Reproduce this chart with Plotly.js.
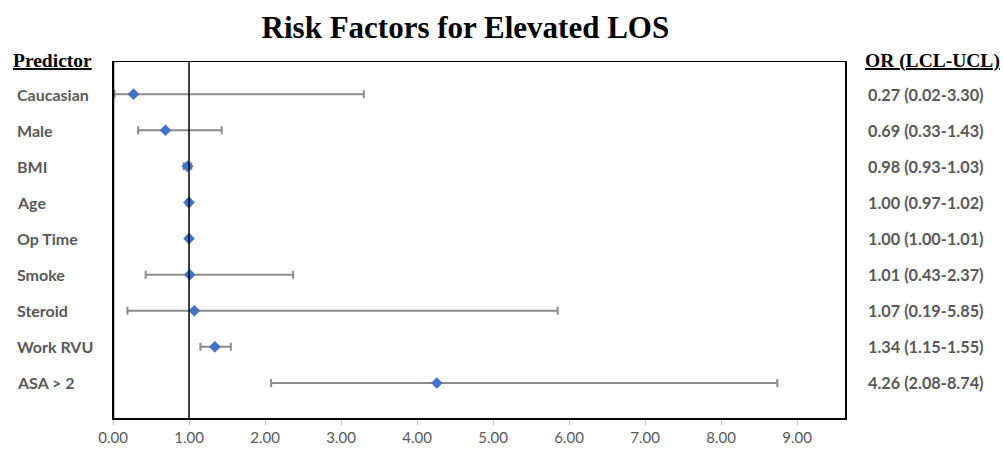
<!DOCTYPE html>
<html><head><meta charset="utf-8">
<script src="https://cdn.plot.ly/plotly-3.0.1.min.js"></script>
<style>html,body{margin:0;padding:0;background:#fff;}#chart{width:1003px;height:452px;}</style>
</head><body><div id="chart"></div>
<script>
const predictors = ["Caucasian","Male","BMI","Age","Op Time","Smoke","Steroid","Work RVU","ASA > 2"];
const oddsRatio = [0.27,0.69,0.98,1.00,1.00,1.01,1.07,1.34,4.26];
const lcl = [0.02,0.33,0.93,0.97,1.00,0.43,0.19,1.15,2.08];
const ucl = [3.30,1.43,1.03,1.02,1.01,2.37,5.85,1.55,8.74];
const xTicks = [0,1,2,3,4,5,6,7,8,9];
const xTickLabels = ["0.00","1.00","2.00","3.00","4.00","5.00","6.00","7.00","8.00","9.00"];

const rows = predictors.map((p,i)=>i+1);
const orLabels = oddsRatio.map((v,i)=>v.toFixed(2)+" ("+lcl[i].toFixed(2)+"-"+ucl[i].toFixed(2)+")");

const trace = {
  type:"scatter", mode:"markers",
  x: oddsRatio, y: rows,
  marker:{symbol:"diamond", size:9, color:"#4472C4"},
  error_x:{type:"data", symmetric:false,
    array: ucl.map((u,i)=>u-oddsRatio[i]),
    arrayminus: lcl.map((l,i)=>oddsRatio[i]-l),
    color:"#8c8c8c", thickness:2, width:4},
  showlegend:false, hoverinfo:"skip"
};

const sans = "Lato, 'Open Sans', 'Liberation Sans', sans-serif";
const labelFont = {family:sans, size:16, color:"#595959"};
const rightFont = {family:sans, size:16.3, color:"#595959"};
const annotations = [];
predictors.forEach((p,i)=>{
  annotations.push({xref:"paper", yref:"y", x:-0.134, y:rows[i], text:"<b>"+p+"</b>", showarrow:false, xanchor:"left", yanchor:"middle", font:labelFont});
  annotations.push({xref:"paper", yref:"y", x:1.029, y:rows[i], text:"<b>"+orLabels[i]+"</b>", showarrow:false, xanchor:"left", yanchor:"middle", font:rightFont});
});
const headFont = {family:"'Liberation Serif', 'Times New Roman', serif", size:19.5, color:"#000"};
annotations.push({xref:"paper", yref:"paper", x:-0.139, y:1.003, text:"<b><u>Predictor</u></b>", showarrow:false, xanchor:"left", yanchor:"middle", font:headFont});
annotations.push({xref:"paper", yref:"paper", x:1.025, y:1.003, text:"<b><u>OR (LCL-UCL)</u></b>", showarrow:false, xanchor:"left", yanchor:"middle", font:headFont});

const layout = {
  width:1003, height:452,
  margin:{l:113, r:158, t:62, b:34},
  paper_bgcolor:"#fff", plot_bgcolor:"#fff",
  title:{text:"<b>Risk Factors for Elevated LOS</b>", x:0.464, xanchor:"center", y:0.94, yanchor:"middle",
    font:{family:"'Liberation Serif', 'Times New Roman', serif", size:31, color:"#000"}},
  xaxis:{range:[0,9.63], tickvals:xTicks, ticktext:xTickLabels, showgrid:false, zeroline:false,
    showline:true, linecolor:"#000", linewidth:1.5, mirror:true,
    ticks:"outside", ticklen:5, tickcolor:"#bfbfbf", tickwidth:1,
    tickfont:{family:sans, size:15, color:"#595959"}},
  yaxis:{range:[9.97,0.11], showgrid:false, zeroline:false, showticklabels:false, ticks:"",
    showline:true, linecolor:"#000", linewidth:1.5, mirror:true},
  shapes:[
    {type:"line", xref:"x", yref:"paper", x0:1, x1:1, y0:0, y1:1, line:{color:"#000", width:1.5}},
    {type:"line", xref:"x", yref:"paper", x0:0, x1:0, y0:0, y1:1, line:{color:"#000", width:2.5}}
  ],
  annotations: annotations
};
Plotly.newPlot("chart",[trace],layout,{displayModeBar:false, staticPlot:true});
</script></body></html>
